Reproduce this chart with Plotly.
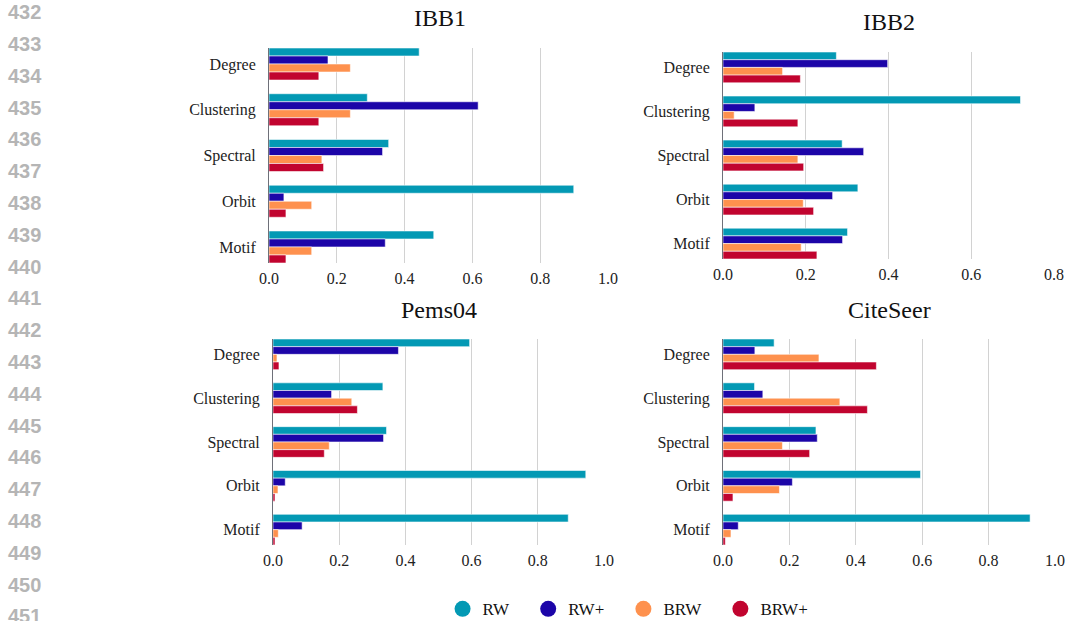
import plotly.graph_objects as go

# Graph statistics compared across random-walk variants
categories = ["Degree", "Clustering", "Spectral", "Orbit", "Motif"]
methods = ["RW", "RW+", "BRW", "BRW+"]
colors = ["#0399b4", "#1c05a8", "#fe914e", "#c1042f"]

ibb1 = {
    "RW":   [0.443, 0.290, 0.353, 0.899, 0.486],
    "RW+":  [0.174, 0.617, 0.335, 0.044, 0.343],
    "BRW":  [0.240, 0.240, 0.156, 0.126, 0.126],
    "BRW+": [0.147, 0.147, 0.161, 0.050, 0.050],
}
ibb2 = {
    "RW":   [0.274, 0.719, 0.288, 0.326, 0.301],
    "RW+":  [0.398, 0.077, 0.340, 0.265, 0.289],
    "BRW":  [0.144, 0.027, 0.181, 0.194, 0.189],
    "BRW+": [0.187, 0.181, 0.195, 0.219, 0.227],
}
pems04 = {
    "RW":   [0.594, 0.332, 0.343, 0.945, 0.892],
    "RW+":  [0.379, 0.177, 0.334, 0.037, 0.088],
    "BRW":  [0.012, 0.238, 0.170, 0.015, 0.016],
    "BRW+": [0.018, 0.255, 0.155, 0.006, 0.006],
}
citeseer = {
    "RW":   [0.154, 0.095, 0.280, 0.595, 0.925],
    "RW+":  [0.096, 0.120, 0.284, 0.209, 0.046],
    "BRW":  [0.289, 0.352, 0.179, 0.170, 0.024],
    "BRW+": [0.462, 0.435, 0.261, 0.030, 0.007],
}

titles = ["IBB1", "IBB2", "Pems04", "CiteSeer"]
datasets = [ibb1, ibb2, pems04, citeseer]
x_max = [1.0, 0.8, 1.0, 1.0]
x_ticks = [[0, 0.2, 0.4, 0.6, 0.8, 1.0], [0, 0.2, 0.4, 0.6, 0.8],
           [0, 0.2, 0.4, 0.6, 0.8, 1.0], [0, 0.2, 0.4, 0.6, 0.8, 1.0]]
line_numbers = list(range(432, 452))

W, H = 1067, 621
# plot-area boxes in pixels: (left, right, top, bottom)
boxes = [(269, 608, 48, 263), (723, 1054, 52, 259),
         (273, 604, 339, 545), (723, 1055, 339, 545)]
title_pos = [(440, 18), (889, 22), (439, 310), (889, 310)]

SERIF = "Liberation Serif"
BARGAP = 0.3
half = (1 - BARGAP) / 2

fig = go.Figure()
layout = {}
for i, (data, box) in enumerate(zip(datasets, boxes)):
    n = "" if i == 0 else str(i + 1)
    for m, c in zip(methods, colors):
        fig.add_trace(go.Bar(
            x=data[m], y=categories, orientation="h", name=m,
            marker=dict(color=c, line=dict(color="rgba(255,255,255,0.7)", width=0.8)),
            xaxis="x" + n, yaxis="y" + n, showlegend=False,
        ))
    l, r, t, b = box
    layout["xaxis" + n] = dict(
        domain=[l / W, r / W], anchor="y" + n, range=[0, x_max[i]],
        tickvals=x_ticks[i], ticktext=[f"{v:.1f}" for v in x_ticks[i]],
        showgrid=True, gridcolor="#d2d2d2", gridwidth=1, zeroline=False,
        showline=False, ticks="", ticklabelstandoff=4,
        tickfont=dict(family=SERIF, size=16, color="#222"),
        fixedrange=True,
    )
    layout["yaxis" + n] = dict(
        domain=[1 - b / H, 1 - t / H], anchor="x" + n, type="category",
        categoryorder="array", categoryarray=categories,
        range=[len(categories) - 1 + half, -half],
        showgrid=False, zeroline=False, showline=True, linecolor="#6e7079", linewidth=1,
        ticks="", ticklabelstandoff=9, tickfont=dict(family=SERIF, size=16, color="#222"),
        fixedrange=True,
    )

# legend entries drawn as round swatches; trailing spaces widen each entry
for m, c in zip(methods, colors):
    fig.add_trace(go.Scatter(
        x=[None], y=[None], mode="markers", name=m + "\u00a0" * 3 + "\u200a",
        marker=dict(symbol="circle", size=16, color=c), showlegend=True,
    ))

annotations = []
for t, (px, py) in zip(titles, title_pos):
    annotations.append(dict(
        text=t, x=px / W, y=1 - py / H, xref="paper", yref="paper",
        xanchor="center", yanchor="middle", showarrow=False,
        font=dict(family=SERIF, size=24, color="#111"),
    ))
for k, num in enumerate(line_numbers):
    annotations.append(dict(
        text=str(num), x=6 / W, y=1 - (12.2 + 31.8 * k) / H, xref="paper", yref="paper",
        xanchor="left", yanchor="middle", showarrow=False,
        font=dict(family="Liberation Sans", size=20, color="#b5b5b5", weight="bold"),
    ))

fig.update_layout(
    width=W, height=H, margin=dict(l=0, r=0, t=0, b=0, autoexpand=False),
    paper_bgcolor="white", plot_bgcolor="white",
    barmode="group", bargap=BARGAP, bargroupgap=0,
    legend=dict(orientation="h", x=0.5952, y=1 - 609.3 / H, xanchor="center", yanchor="middle",
                font=dict(family=SERIF, size=17, color="#111"), itemclick=False),
    annotations=annotations,
    **layout,
)

fig.write_html("out.html")
